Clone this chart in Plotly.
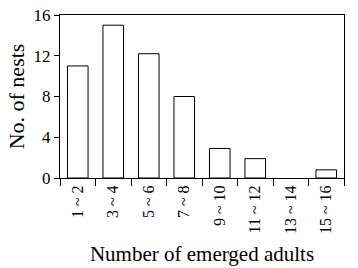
import plotly.graph_objects as go

categories = ["1 ~ 2", "3 ~ 4", "5 ~ 6", "7 ~ 8", "9 ~ 10", "11 ~ 12", "13 ~ 14", "15 ~ 16"]
nests = [11, 15, 12.2, 8, 2.9, 1.9, 0, 0.8]
y_ticks = [0, 4, 8, 12, 16]

FONT = "Liberation Serif, Times New Roman, serif"

fig = go.Figure(go.Bar(
    x=categories, y=nests,
    marker=dict(color="white",
                line=dict(color="black", width=[1 if v > 0 else 0 for v in nests])),
    width=0.58,
))

fig.update_layout(
    width=358, height=268,
    margin=dict(l=60, r=14, t=15, b=90),
    paper_bgcolor="white", plot_bgcolor="white",
    font=dict(family=FONT, color="black", size=16),
    showlegend=False,
)
fig.update_xaxes(
    type="category", tickson="boundaries", ticks="outside", ticklen=7,
    tickcolor="black", tickangle=-90, showline=True, linecolor="black",
    linewidth=1, mirror=True, showgrid=False, automargin=False,
    tickfont=dict(family=FONT, size=16),
    title=dict(text="Number of emerged adults", font=dict(family=FONT, size=21), standoff=13),
)
fig.update_yaxes(
    range=[0, 16], tickvals=y_ticks, ticks="outside", ticklen=5, tickcolor="black",
    showline=True, linecolor="black", linewidth=1, mirror=True, showgrid=False,
    zeroline=False, automargin=False, tickfont=dict(family=FONT, size=17),
    ticklabeloverflow="allow",
    title=dict(text="No. of nests", font=dict(family=FONT, size=22), standoff=2),
)

fig.write_html(
    "out.html",
    config={"displayModeBar": False},
    post_script="document.body.style.margin='0';document.body.style.overflow='hidden';",
)
